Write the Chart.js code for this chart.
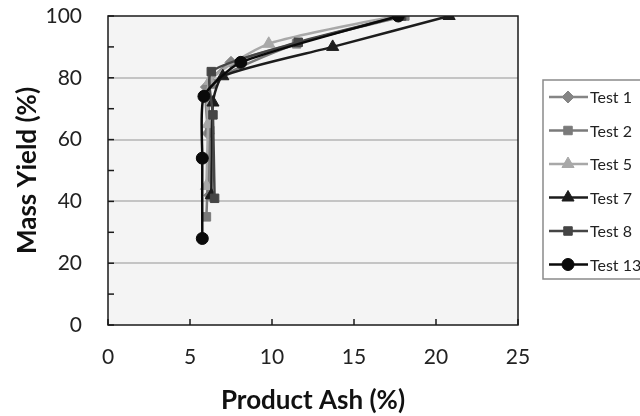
<!DOCTYPE html>
<html>
<head>
<meta charset="utf-8">
<script src="https://cdn.jsdelivr.net/npm/chart.js@4.4.1/dist/chart.umd.min.js"></script>
<style>
html,body{margin:0;padding:0;background:#fff;}
#wrap{width:640px;height:416px;position:relative;}
</style>
</head>
<body>
<div id="wrap"><canvas id="c" width="640" height="416"></canvas></div>
<script>
// ---- data ----
const seriesNames = ["Test 1", "Test 2", "Test 5", "Test 7", "Test 8", "Test 13"];
const test1Ash   = [6.2, 6.1, 6.0, 7.5, 17.8];
const test1Yield = [42, 62, 77, 85, 100];
const test2Ash   = [6.0, 6.2, 6.3, 11.5, 18.1];
const test2Yield = [35, 63, 78, 91, 100];
const test5Ash   = [6.0, 6.1, 6.2, 9.8, 17.5];
const test5Yield = [45, 65, 79, 91, 100];
const test7Ash   = [6.3, 6.4, 7.0, 13.7, 20.8];
const test7Yield = [42, 72, 80.5, 90, 100];
const test8Ash   = [6.5, 6.4, 6.3, 11.6, 17.9];
const test8Yield = [41, 68, 82, 91.5, 100];
const test13Ash   = [5.75, 5.75, 5.85, 8.1, 17.7];
const test13Yield = [28, 54, 74, 85, 100];
const xTicks = [0, 5, 10, 15, 20, 25];
const yTicks = [0, 20, 40, 60, 80, 100];

const FONT = 'Lato, "Open Sans", sans-serif';

const styles = [
  {color:'#858585', pt:'rectRot', r:6},
  {color:'#7a7a7a', pt:'rect', r:6},
  {color:'#a8a8a8', pt:'triangle', r:7},
  {color:'#1c1c1c', pt:'triangle', r:7},
  {color:'#454545', pt:'rect', r:6},
  {color:'#0a0a0a', pt:'circle', r:6}
];
const xs = [test1Ash, test2Ash, test5Ash, test7Ash, test8Ash, test13Ash];
const ys = [test1Yield, test2Yield, test5Yield, test7Yield, test8Yield, test13Yield];

const datasets = seriesNames.map((n, i) => ({
  label: n,
  data: xs[i].map((x, k) => ({x: x, y: ys[i][k]})),
  showLine: true,
  borderColor: styles[i].color,
  backgroundColor: styles[i].color,
  pointBackgroundColor: styles[i].color,
  pointBorderColor: styles[i].color,
  pointStyle: styles[i].pt,
  pointRadius: styles[i].r,
  pointBorderWidth: 1,
  borderWidth: 2.5,
  tension: 0.2,
  order: seriesNames.length - i
}));

const framePlugin = {
  id: 'frame',
  beforeDraw(chart) {
    const {ctx, chartArea: a} = chart;
    ctx.save();
    ctx.fillStyle = '#f4f4f4';
    ctx.fillRect(a.left, a.top, a.right - a.left, a.bottom - a.top);
    ctx.restore();
  },
  afterDatasetsDraw(chart) {
    const {ctx, chartArea: a, scales} = chart;
    ctx.save();
    ctx.strokeStyle = '#1a1a1a';
    ctx.lineWidth = 1.5;
    ctx.strokeRect(a.left, a.top, a.right - a.left, a.bottom - a.top);
    // inner tick marks
    scales.y.ticks.forEach(t => {
      const p = scales.y.getPixelForValue(t.value);
      ctx.beginPath(); ctx.moveTo(a.left, p); ctx.lineTo(a.left + 6, p); ctx.stroke();
    });
    scales.x.ticks.forEach(t => {
      const p = scales.x.getPixelForValue(t.value);
      ctx.beginPath(); ctx.moveTo(p, a.bottom); ctx.lineTo(p, a.bottom - 6); ctx.stroke();
    });
    // legend
    const bx = 543, by = 80, bw = 110, bh = 199;
    ctx.fillStyle = '#ffffff';
    ctx.fillRect(bx, by, bw, bh);
    ctx.strokeStyle = '#8a8a8a';
    ctx.lineWidth = 1.5;
    ctx.strokeRect(bx, by, bw, bh);
    ctx.font = '16px ' + FONT;
    ctx.textBaseline = 'middle';
    ctx.textAlign = 'left';
    chart.data.datasets.forEach((ds, i) => {
      const yy = 97 + i * 33.5;
      ctx.strokeStyle = ds.borderColor;
      ctx.lineWidth = 2.5;
      ctx.beginPath(); ctx.moveTo(549, yy); ctx.lineTo(588, yy); ctx.stroke();
      ctx.fillStyle = ds.pointBackgroundColor;
      ctx.strokeStyle = ds.pointBorderColor;
      ctx.lineWidth = 1;
      Chart.helpers.drawPoint(ctx, {pointStyle: ds.pointStyle, radius: ds.pointRadius, borderWidth: 1, rotation: 0}, 568, yy);
      ctx.fillStyle = '#222';
      ctx.fillText(ds.label, 590, yy + 1);
    });
    ctx.restore();
  }
};

new Chart(document.getElementById('c'), {
  type: 'scatter',
  data: {datasets: datasets},
  plugins: [framePlugin],
  options: {
    responsive: false,
    animation: false,
    layout: {padding: {left: 0, right: 122, top: 16, bottom: 0}},
    plugins: {legend: {display: false}, tooltip: {enabled: false}},
    scales: {
      x: {
        type: 'linear', min: xTicks[0], max: xTicks[xTicks.length - 1],
        afterBuildTicks: s => { s.ticks = xTicks.map(v => ({value: v})); },
        grid: {display: false, drawTicks: false},
        border: {display: false},
        ticks: {padding: 20, color: '#222', font: {family: FONT, size: 21}},
        title: {display: true, text: 'Product Ash (%)', color: '#111', padding: {top: 4, bottom: 0}, font: {family: FONT, size: 26, weight: 'bold'}},
        afterFit: s => { s.height = 91; s.paddingLeft = 0; s.paddingRight = 0; }
      },
      y: {
        type: 'linear', min: yTicks[0], max: yTicks[yTicks.length - 1],
        ticks: {stepSize: 10, padding: 26, color: '#222', font: {family: FONT, size: 21},
          callback: v => yTicks.includes(v) ? String(v) : ''},
        grid: {drawTicks: false, lineWidth: 2,
          color: c => (c.tick && c.tick.value > 0 && c.tick.value < 100 && c.tick.value % 20 === 0) ? '#c4c4c4' : 'rgba(0,0,0,0)'},
        border: {display: false},
        title: {display: true, text: 'Mass Yield (%)', color: '#111', padding: {top: 12, bottom: 0}, font: {family: FONT, size: 26, weight: 'bold'}},
        afterFit: s => { s.width = 108; s.paddingTop = 0; s.paddingBottom = 0; }
      }
    }
  }
});
</script>
</body>
</html>
